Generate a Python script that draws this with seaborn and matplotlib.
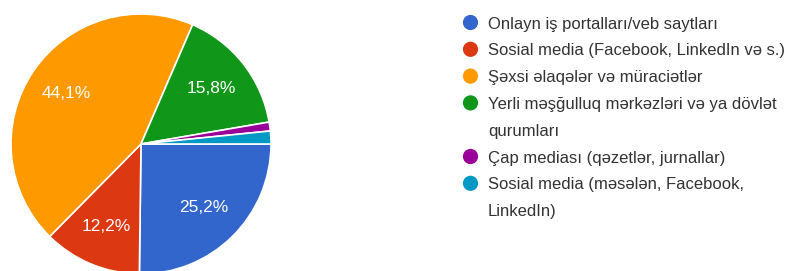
import matplotlib
matplotlib.use("Agg")
import matplotlib.pyplot as plt
import seaborn as sns

categories = [
    "Onlayn iş portalları/veb saytları",
    "Sosial media (Facebook, LinkedIn və s.)",
    "Şəxsi əlaqələr və müraciətlər",
    "Yerli məşğulluq mərkəzləri və ya dövlət\nqurumları",
    "Çap mediası (qəzetlər, jurnallar)",
    "Sosial media (məsələn, Facebook,\nLinkedIn)",
]
values = [25.2, 12.2, 44.1, 15.8, 1.1, 1.6]
colors = ["#3366cc", "#dc3912", "#ff9900", "#109618", "#990099", "#0099c6"]

sns.set_theme(style="white")
plt.rcParams["font.family"] = ["Liberation Sans", "DejaVu Sans"]

W, H = 800, 271
fig = plt.figure(figsize=(W / 100, H / 100), dpi=100)

# pie axes: center (141,144), radius 130 px
cx, cy, r = 141, 144, 130
ax = fig.add_axes([(cx - r) / W, (H - cy - r) / H, 2 * r / W, 2 * r / H])


def fmt(p):
    return (f"{p:.1f}".replace(".", ",") + "%") if p >= 5 else ""


wedges, texts, autotexts = ax.pie(
    values,
    colors=colors,
    startangle=0,
    counterclock=False,
    autopct=fmt,
    pctdistance=0.69,
    radius=1.0,
    wedgeprops=dict(edgecolor="white", linewidth=1.2),
    textprops=dict(color="white", fontsize=12.5),
)
ax.set_xlim(-1, 1)
ax.set_ylim(-1, 1)
ax.set_aspect("auto")
ax.axis("off")

# legend drawn in pixel coordinates
lax = fig.add_axes([0, 0, 1, 1])
lax.set_xlim(0, W)
lax.set_ylim(H, 0)
lax.axis("off")
lax.patch.set_alpha(0)

y0, step = 22.5, 26.8
line = 0
for lab, col in zip(categories, colors):
    lines = lab.split("\n")
    lax.scatter([470.5], [y0 + step * line], s=120, color=col, edgecolor="none")
    for k, t in enumerate(lines):
        lax.text(488, y0 + step * (line + k), t, fontsize=12.0, color="#333333",
                 va="center_baseline", ha="left")
    line += len(lines)

fig.savefig("out.png", dpi=100)
